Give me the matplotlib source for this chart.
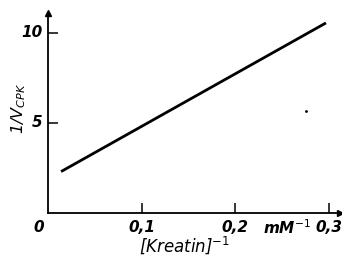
import matplotlib.pyplot as plt

# data (reciprocal plot)
kreatin_inv = [0.014, 0.297]
v_inv = [2.3, 10.55]
speck = (0.276, 5.67)

x_ticks = [0.1, 0.2, 0.3]
x_labels = ["0,1", "0,2", "0,3"]
y_ticks = [5, 10]
y_labels = ["5", "10"]

plt.rcParams["mathtext.fontset"] = "dejavusans"

fig = plt.figure(figsize=(3.42, 2.61), dpi=100)
ax = fig.add_axes([48 / 342, 48 / 261, 292 / 342, 200 / 261])

ax.plot(kreatin_inv, v_inv, color="black", lw=2.0, solid_capstyle="butt")
ax.plot(*speck, "o", color="black", ms=1.0)

ax.set_xlim(0, 0.312)
ax.set_ylim(0, 11.1)

for s in ["top", "right"]:
    ax.spines[s].set_visible(False)
for s in ["left", "bottom"]:
    ax.spines[s].set_linewidth(1.3)

# axis arrows
ax.plot(1, 0, ">", color="black", ms=4, transform=ax.transAxes, clip_on=False)
ax.plot(0, 1, "^", color="black", ms=4, transform=ax.transAxes, clip_on=False)

ax.set_xticks(x_ticks)
ax.set_xticklabels([])
ax.set_yticks(y_ticks)
ax.set_yticklabels([])
ax.tick_params(direction="in", length=7, width=1.1)

font = dict(fontsize=11, fontstyle="italic", fontweight="bold", color="black")
for x, lab in zip(x_ticks, x_labels):
    ax.text(x, -0.075, lab, transform=ax.get_xaxis_transform(),
            ha="center", va="center", **font)
for y, lab in zip(y_ticks, y_labels):
    ax.text(-0.02, y, lab, transform=ax.get_yaxis_transform(),
            ha="right", va="center", **font)
ax.text(-0.03, -0.075, "0", transform=ax.transAxes, ha="center", va="center", **font)
ax.text(0.82, -0.075, r"mM$^{-1}$", transform=ax.transAxes, ha="center", va="center", **font)

fig.text(185 / 342, 1 - 245 / 261, r"[Kreatin]$^{-1}$", ha="center", va="center",
         fontsize=12, fontstyle="italic", color="black")
fig.text(19 / 342, 1 - 108 / 261, r"1/V$_{CPK}$", ha="center", va="center",
         rotation=90, fontsize=11.5, fontstyle="italic", color="black")

fig.savefig("out.png", dpi=100)
